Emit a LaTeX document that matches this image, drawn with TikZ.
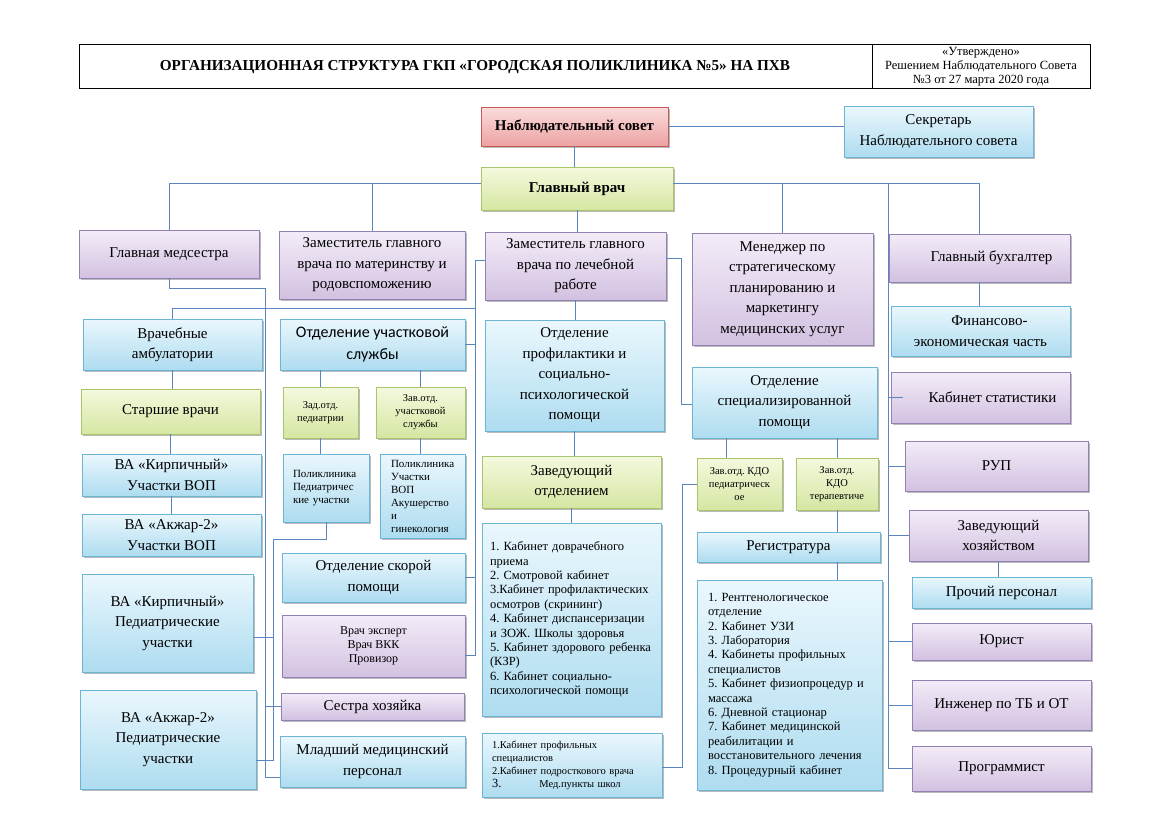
\documentclass[tikz,border=0pt]{standalone}
\usepackage{fontspec}
\setmainfont{Liberation Serif}
\newfontfamily\calfont{Carlito}
\usetikzlibrary{shadows}
\definecolor{linkc}{HTML}{5A85BE}
\definecolor{purpT}{HTML}{F3ECF8}
\definecolor{purpB}{HTML}{D2C1E1}
\definecolor{purpD}{HTML}{9282B4}
\definecolor{blueT}{HTML}{EAF7FD}
\definecolor{blueB}{HTML}{AEDCF0}
\definecolor{blueD}{HTML}{6DB5D5}
\definecolor{greenT}{HTML}{F4F9DE}
\definecolor{greenB}{HTML}{D5E6A2}
\definecolor{greenD}{HTML}{A9C46C}
\definecolor{redT}{HTML}{FADCDC}
\definecolor{redB}{HTML}{EDA2A2}
\definecolor{redD}{HTML}{C65A57}
\newcommand\fsA{\fontsize{15}{20.5}\selectfont}
\newcommand\fsB{\fontsize{12.5}{14.4}\selectfont}
\newcommand\fsC{\fontsize{11}{13}\selectfont}
\newcommand\fsD{\fontsize{10.5}{13}\selectfont}
\newcommand\bx[7]{\node[#1, anchor=north west, minimum width={(#5-#3)*1pt}, minimum height={(#6-#4)*1pt}] (#2) at (#3,#4) {#7};}
\tikzset{
  base/.style={draw, line width=0.9pt, inner sep=2pt, outer sep=0pt, align=center, font=\fsA,
    drop shadow={shadow xshift=1.5pt, shadow yshift=-1.5pt, fill=black!60, opacity=.45}},
  pbox/.style={base, draw=purpD, top color=purpT, bottom color=purpB},
  bbox/.style={base, draw=blueD, top color=blueT, bottom color=blueB},
  gbox/.style={base, draw=greenD, top color=greenT, bottom color=greenB},
  rbox/.style={base, draw=redD, top color=redT, bottom color=redB},
  link/.style={draw=linkc, line width=1pt},
  lst/.style={align=left, inner xsep=0pt},
}
\begin{document}
\frenchspacing
\begin{tikzpicture}[x=1pt,y=-1pt]
\useasboundingbox (0,0) rectangle (1170,827);
\fill[white] (0,0) rectangle (1170,827);
% header
\node[draw, line width=0.6pt, anchor=north west, minimum width=1011pt, minimum height=44pt, inner sep=0pt] (hdr) at (79,44) {};
\draw[line width=0.6pt] (hdr.north west) ++(793,0) coordinate (dv) -- (dv |- hdr.south);
\node[font=\bfseries\fontsize{15.2}{18}\selectfont] (title) at (475,67) {ОРГАНИЗАЦИОННАЯ СТРУКТУРА ГКП «ГОРОДСКАЯ ПОЛИКЛИНИКА №5» НА ПХВ};
\node[font=\fontsize{12.5}{14}\selectfont, align=center] (appr) at (981,66.5) {«Утверждено»\\Решением Наблюдательного Совета\\№3 от 27 марта 2020 года};
% boxes
\bx{rbox}{nab}{481}{107}{668}{146}{\bfseries Наблюдательный совет}
\bx{bbox}{sec}{844}{106}{1033}{157}{Секретарь\\Наблюдательного совета}
\bx{gbox}{glav}{481}{167}{673}{210}{\bfseries Главный врач}
\bx{pbox}{med}{79}{230}{259}{278}{Главная медсестра}
\bx{pbox}{zamm}{279}{231}{465}{299}{Заместитель главного\\врача по материнству и\\родовспоможению}
\bx{pbox}{zaml}{485}{232}{666}{300}{Заместитель главного\\врача по лечебной\\работе}
\bx{pbox}{men}{692}{233}{873}{345}{Менеджер по\\стратегическому\\планированию и\\маркетингу\\медицинских услуг}
\bx{pbox}{buh}{889}{234}{1070}{282}{\hspace*{24pt}Главный бухгалтер}
\bx{bbox}{amb}{83}{319}{262}{370}{Врачебные\\амбулатории}
\bx{gbox}{star}{81}{389}{260}{434}{Старшие врачи}
\bx{bbox}{kirvop}{82}{454}{261}{496}{ВА «Кирпичный»\\Участки ВОП}
\bx{bbox}{akzvop}{82}{514}{261}{556}{ВА «Акжар-2»\\Участки ВОП}
\bx{bbox}{kirped}{82}{574}{253}{672}{ВА «Кирпичный»\\Педиатрические\\участки}
\bx{bbox}{akzped}{80}{690}{256}{789}{ВА «Акжар-2»\\Педиатрические\\участки}
\bx{bbox, font=\calfont\fontsize{16}{22}\selectfont}{uch}{280}{319}{465}{370}{Отделение участковой\\службы}
\bx{gbox, font=\fsD}{zped}{283}{387}{358}{438}{Зад.отд.\\педиатрии}
\bx{gbox, font=\fsD}{zuch}{376}{387}{465}{438}{Зав.отд.\\участковой\\службы}
\bx{bbox, font=\fsC, lst, text width=66pt}{polped}{283}{454}{369}{522}{Поликлиника\\Педиатричес\\кие участки}
\bx{bbox, font=\fsC, lst, text width=63pt}{polvop}{380}{454}{465}{538}{Поликлиника\\Участки\\ВОП\\Акушерство\\и\\гинекология}
\bx{bbox}{skor}{282}{553}{465}{602}{Отделение скорой\\помощи}
\bx{pbox, font=\fontsize{12}{14}\selectfont}{vrach}{282}{615}{465}{677}{Врач эксперт\\Врач ВКК\\Провизор}
\bx{pbox}{sestra}{281}{693}{464}{720}{Сестра хозяйка}
\bx{bbox}{mlad}{280}{736}{465}{787}{Младший медицинский\\персонал}
\bx{bbox}{prof}{485}{320}{664}{431}{Отделение\\профилактики и\\социально-\\психологической\\помощи}
\bx{gbox}{zav}{482}{456}{661}{508}{Заведующий\\отделением}
\bx{bbox, font=\fsB, lst, text width=163pt}{lone}{482}{523}{661}{716}{1. Кабинет доврачебного\\приема\\2. Смотровой кабинет\\3.Кабинет профилактических\\осмотров (скрининг)\\4. Кабинет диспансеризации\\и ЗОЖ. Школы здоровья\\5. Кабинет здорового ребенка\\(КЗР)\\6. Кабинет социально-\\психологической помощи}
\bx{bbox, font=\fsD, lst, text width=160pt}{ltwo}{482}{733}{662}{797}{1.Кабинет профильных\\специалистов\\2.Кабинет подросткового врача\\{\fontsize{12.5}{13}\selectfont 3.}\hspace{38pt}Мед.пункты школ}
\bx{bbox}{spec}{692}{367}{877}{438}{Отделение\\специализированной\\помощи}
\bx{gbox, font=\fsD}{kdoped}{697}{458}{782}{510}{Зав.отд. КДО\\педиатрическ\\ое}
\bx{gbox, font=\fsD}{kdoter}{796}{458}{878}{510}{Зав.отд.\\КДО\\терапевтиче}
\bx{bbox}{reg}{697}{532}{880}{562}{Регистратура}
\bx{bbox, font=\fsB, lst, text width=163pt}{lthree}{697}{580}{882}{790}{1. Рентгенологическое\\отделение\\2. Кабинет УЗИ\\3. Лаборатория\\4. Кабинеты профильных\\специалистов\\5. Кабинет физиопроцедур и\\массажа\\6. Дневной стационар\\7. Кабинет медицинской\\реабилитации и\\восстановительного лечения\\8. Процедурный кабинет}
\bx{bbox}{fin}{891}{306}{1070}{356}{\hspace*{18pt}Финансово-\\экономическая часть}
\bx{pbox}{stat}{891}{372}{1070}{423}{\hspace*{24pt}Кабинет статистики}
\bx{pbox}{rup}{905}{441}{1088}{491}{РУП}
\bx{pbox}{hoz}{909}{510}{1088}{561}{Заведующий\\хозяйством}
\bx{bbox}{proch}{912}{577}{1091}{608}{Прочий персонал}
\bx{pbox}{yur}{912}{623}{1091}{660}{Юрист}
\bx{pbox}{ing}{912}{680}{1091}{730}{Инженер по ТБ и ОТ}
\bx{pbox}{prog}{912}{746}{1091}{791}{Программист}
% connectors
\draw[link] (nab.east) -- (nab.east -| sec.west);
\draw[link] (nab.south) -- (nab.south |- glav.north);
\draw[link] (glav.west |- 0,183) -| (med.north);
\draw[link] (zamm.north) -- (zamm.north |- 0,183);
\draw[link] (glav.east |- 0,183) -| (buh.north);
\draw[link] (men.north) -- (men.north |- 0,183);
\coordinate (sp) at (888,183);
\draw[link] (sp) |- (prog.west);
\foreach \n in {rup,hoz,yur,ing} \draw[link] (\n.west -| sp) -- (\n.west);
\draw[link] (stat.west -| sp) -- ++(15,0);
\draw[link] (buh.south) -- (buh.south |- fin.north);
\draw[link] (hoz.south) -- (hoz.south |- proch.north);
\draw[link] (glav.south) -- (glav.south |- zaml.north);
\draw[link] (zaml.south) -- (zaml.south |- prof.north);
\draw[link] (prof.south) -- (prof.south |- zav.north);
\draw[link] (zav.south) -- (zav.south |- lone.north);
\draw[link] (zaml.east |- 0,258) -| (681,404) -- (spec.west |- 0,404);
\draw[link] (spec.south -| 726,0) -- (kdoped.north -| 726,0);
\draw[link] (kdoter.north) -- (kdoter.north |- spec.south);
\draw[link] (kdoter.south) -- (kdoter.south |- reg.north);
\draw[link] (reg.south -| kdoter.south) -- (lthree.north -| kdoter.south);
\draw[link] (kdoped.west) -| (682,767) -- (ltwo.east |- 0,767);
\draw[link] (zaml.west |- 0,260) -| (475,655) -- (vrach.east |- 0,655);
\draw[link] (uch.east) -- (uch.east -| 475,0);
\draw[link] (skor.east) -- (skor.east -| 475,0);
\draw[link] (amb.north) |- (475,308);
\draw[link] (med.south) |- (265,288) -- (265,777) -- (mlad.west |- 0,777);
\draw[link] (sestra.west) -- (sestra.west -| 265,0);
\draw[link] (polped.south) |- (273,539) -- (273,760) -- (akzped.east |- 0,760);
\draw[link] (kirped.east |- 0,637) -- (273,637);
\draw[link] (zped.north) -- (zped.north |- uch.south);
\draw[link] (zuch.north) -- (zuch.north |- uch.south);
\draw[link] (zped.south) -- (zped.south |- polped.north);
\draw[link] (zuch.south) -- (zuch.south |- polvop.north);
\draw[link] (amb.south) -- (amb.south |- star.north);
\draw[link] (star.south) -- (star.south |- kirvop.north);
\draw[link] (kirvop.south) -- (kirvop.south |- akzvop.north);
\end{tikzpicture}
\end{document}
